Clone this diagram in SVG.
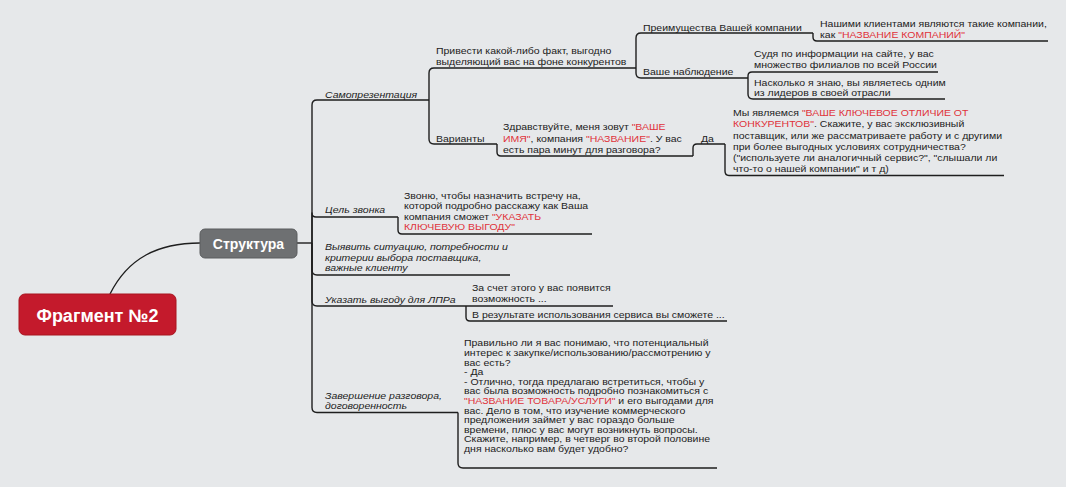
<svg xmlns="http://www.w3.org/2000/svg" width="1066" height="487" viewBox="0 0 1066 487">
<style>
.t{font-family:"Liberation Sans",Arial,sans-serif;font-size:9.5px;fill:#1c1c1c}
.i{font-style:italic}
.r{fill:#e0333b}
.c{fill:none;stroke:#1e1e1e;stroke-width:1.4;stroke-linejoin:round}
.h{font-family:"Liberation Sans",Arial,sans-serif;font-weight:bold;fill:#fff;text-anchor:middle}
</style>
<rect width="1066" height="487" fill="#e6e8ea"/>
<g id="connectors">
<path class="c" d="M110 294 C128 258 158 243 200 243"/>
<path class="c" d="M297 243 H312"/>
<path class="c" d="M312 243 V105 Q312 100 317 100 H429"/>
<path class="c" d="M312 243 V213 Q312 217 316 217 H398"/>
<path class="c" d="M312 243 V270 Q312 275 317 275 H510"/>
<path class="c" d="M312 243 V301 Q312 306 317 306 H466"/>
<path class="c" d="M312 243 V407.5 Q312 412.5 317 412.5 H458"/>
<path class="c" d="M429 100 V73 Q429 68 434 68 H636"/>
<path class="c" d="M429 100 V139 Q429 144 434 144 H497"/>
<path class="c" d="M636 68 V38 Q636 33 641 33 H813"/>
<path class="c" d="M636 68 V73 Q636 78 641 78 H748"/>
<path class="c" d="M813 33 V37 Q813 41 817 41 H1048"/>
<path class="c" d="M748 78 V76 Q748 72 752 72 H938"/>
<path class="c" d="M748 78 V94 Q748 99 753 99 H945"/>
<path class="c" d="M497 144 V152 Q497 156 501 156 H693"/>
<path class="c" d="M693 156 V148 Q693 144 697 144 H725"/>
<path class="c" d="M725 144 V171 Q725 175.5 729 175.5 H1004"/>
<path class="c" d="M398 217 V230 Q398 234 402 234 H592"/>
<path class="c" d="M466 306 H613"/>
<path class="c" d="M466 306 V317 Q466 321 470 321 H727"/>
<path class="c" d="M458 412.5 V463 Q458 468 463 468 H717"/>
</g>
<g id="node-fragment">
<rect x="19" y="294" width="157" height="41" rx="6" fill="#c41a2c" stroke="#a8141f" stroke-width="1"/>
<text class="h" x="97.5" y="321.5" font-size="18">Фрагмент №2</text>
</g>
<g id="node-structure">
<rect x="200" y="229" width="97" height="29" rx="5" fill="#6e7072" stroke="#5a5c5e" stroke-width="1"/>
<text class="h" x="248.5" y="248.5" font-size="14">Структура</text>
</g>
<g id="node-samoprez" transform="translate(325 0) scale(1.105 1)"><text class="t i" x="0" y="98">Самопрезентация</text></g>
<g id="node-fact" transform="translate(436 0) scale(1.105 1)"><text class="t"><tspan x="0" y="54.5">Привести какой-либо факт, выгодно</tspan><tspan x="0" y="65.5">выделяющий вас на фоне конкурентов</tspan></text></g>
<g id="node-preim" transform="translate(643 0) scale(1.105 1)"><text class="t" x="0" y="31">Преимущества Вашей компании</text></g>
<g id="node-clients" transform="translate(820 0) scale(1.105 1)"><text class="t"><tspan x="0" y="27">Нашими клиентами являются такие компании,</tspan><tspan x="0" y="38">как <tspan class="r">"НАЗВАНИЕ КОМПАНИЙ"</tspan></tspan></text></g>
<g id="node-nabl" transform="translate(643 0) scale(1.105 1)"><text class="t" x="0" y="75.5">Ваше наблюдение</text></g>
<g id="node-sudya" transform="translate(754 0) scale(1.105 1)"><text class="t"><tspan x="0" y="57.5">Судя по информации на сайте, у вас</tspan><tspan x="0" y="68.5">множество филиалов по всей России</tspan></text></g>
<g id="node-naskolko" transform="translate(754 0) scale(1.105 1)"><text class="t"><tspan x="0" y="86">Насколько я знаю, вы являетесь одним</tspan><tspan x="0" y="96.5">из лидеров в своей отрасли</tspan></text></g>
<g id="node-varianty" transform="translate(436 0) scale(1.105 1)"><text class="t" x="0" y="142">Варианты</text></g>
<g id="node-hello" transform="translate(503 0) scale(1.105 1)"><text class="t"><tspan x="0" y="130.5">Здравствуйте, меня зовут <tspan class="r">"ВАШЕ</tspan></tspan><tspan x="0" y="142"><tspan class="r">ИМЯ"</tspan>, компания <tspan class="r">"НАЗВАНИЕ"</tspan>. У вас</tspan><tspan x="0" y="153.5">есть пара минут для разговора?</tspan></text></g>
<g id="node-da" transform="translate(701 0) scale(1.105 1)"><text class="t" x="0" y="142">Да</text></g>
<g id="node-my" transform="translate(733 0) scale(1.105 1)"><text class="t"><tspan x="0" y="116">Мы являемся <tspan class="r">"ВАШЕ КЛЮЧЕВОЕ ОТЛИЧИЕ ОТ</tspan></tspan><tspan x="0" y="127.5"><tspan class="r">КОНКУРЕНТОВ"</tspan>. Скажите, у вас эксклюзивный</tspan><tspan x="0" y="139">поставщик, или же рассматриваете работу и с другими</tspan><tspan x="0" y="150">при более выгодных условиях сотрудничества?</tspan><tspan x="0" y="161.5">("используете ли аналогичный сервис?", "слышали ли</tspan><tspan x="0" y="172.5">что-то о нашей компании" и т д)</tspan></text></g>
<g id="node-cel" transform="translate(325 0) scale(1.105 1)"><text class="t i" x="0" y="213">Цель звонка</text></g>
<g id="node-zvonyu" transform="translate(404 0) scale(1.105 1)"><text class="t"><tspan x="0" y="199">Звоню, чтобы назначить встречу на,</tspan><tspan x="0" y="209.5">которой подробно расскажу как Ваша</tspan><tspan x="0" y="220">компания сможет <tspan class="r">"УКАЗАТЬ</tspan></tspan><tspan x="0" y="230.5" class="r">КЛЮЧЕВУЮ ВЫГОДУ"</tspan></text></g>
<g id="node-vyyavit" transform="translate(325 0) scale(1.105 1)"><text class="t i"><tspan x="0" y="250.5">Выявить ситуацию, потребности и</tspan><tspan x="0" y="261">критерии выбора поставщика,</tspan><tspan x="0" y="271.5">важные клиенту</tspan></text></g>
<g id="node-ukazat" transform="translate(325 0) scale(1.105 1)"><text class="t i" x="0" y="303.5">Указать выгоду для ЛПРа</text></g>
<g id="node-zaschet" transform="translate(472 0) scale(1.105 1)"><text class="t"><tspan x="0" y="291">За счет этого у вас появится</tspan><tspan x="0" y="302">возможность ...</tspan></text></g>
<g id="node-vrezult" transform="translate(472 0) scale(1.105 1)"><text class="t" x="0" y="318.5">В результате использования сервиса вы сможете ...</text></g>
<g id="node-zaversh" transform="translate(325 0) scale(1.105 1)"><text class="t i"><tspan x="0" y="399.5">Завершение разговора,</tspan><tspan x="0" y="409.3">договоренность</tspan></text></g>
<g id="node-pravilno" transform="translate(464 0) scale(1.105 1)"><text class="t"><tspan x="0" y="346.5">Правильно ли я вас понимаю, что потенциальный</tspan><tspan x="0" y="356.1">интерес к закупке/использованию/рассмотрению у</tspan><tspan x="0" y="365.7">вас есть?</tspan><tspan x="0" y="375.3">- Да</tspan><tspan x="0" y="384.9">- Отлично, тогда предлагаю встретиться, чтобы у</tspan><tspan x="0" y="394.5">вас была возможность подробно познакомиться с</tspan><tspan x="0" y="404.1"><tspan class="r">"НАЗВАНИЕ ТОВАРА/УСЛУГИ"</tspan> и его выгодами для</tspan><tspan x="0" y="413.7">вас. Дело в том, что изучение коммерческого</tspan><tspan x="0" y="423.3">предложения займет у вас гораздо больше</tspan><tspan x="0" y="432.9">времени, плюс у вас могут возникнуть вопросы.</tspan><tspan x="0" y="442.5">Скажите, например, в четверг во второй половине</tspan><tspan x="0" y="452.1">дня насколько вам будет удобно?</tspan></text></g>
</svg>
